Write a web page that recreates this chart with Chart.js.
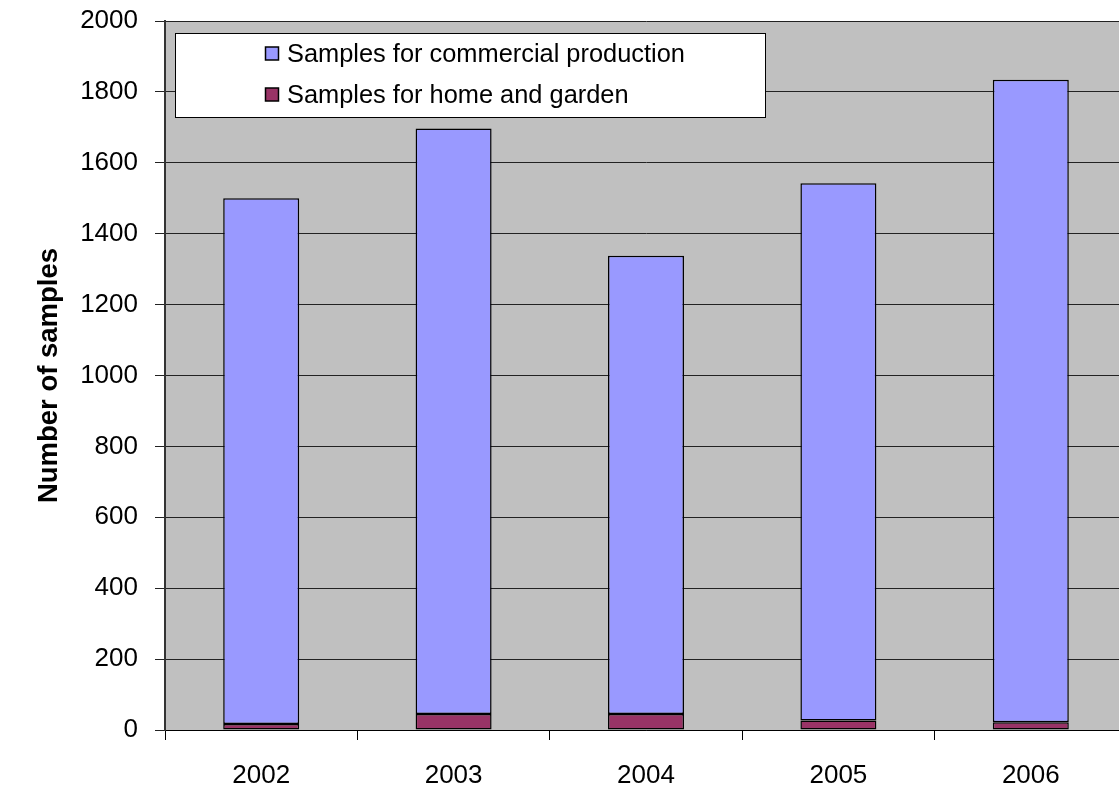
<!DOCTYPE html>
<html>
<head>
<meta charset="utf-8">
<script src="https://cdn.jsdelivr.net/npm/chart.js@4/dist/chart.umd.min.js"></script>
<style>
  html, body { margin: 0; padding: 0; background: #ffffff; overflow: hidden; }
  #wrap { position: relative; width: 1130px; height: 790px; }
</style>
</head>
<body>
<div id="wrap"><canvas id="chart"></canvas></div>
<script>
// Years on the category axis
const years = ['2002', '2003', '2004', '2005', '2006'];
// Samples taken for commercial production, per year
const commercialSamples = [1483, 1652, 1293, 1515, 1812];
// Samples taken for home and garden, per year
const homeGardenSamples = [17, 45, 45, 27, 22];
// Series names shown in the legend
const commercialLabel = 'Samples for commercial production';
const homeGardenLabel = 'Samples for home and garden';
// Y-axis range and step
const yMin = 0, yMax = 2000, yStep = 200;

const FONT = '"Liberation Sans", Arial, sans-serif';
const COMMERCIAL_COLOR = '#9999FF';
const HOME_COLOR = '#993366';

// Draws the plot background and a boxed legend inside the plot area
const plotDecor = {
  id: 'plotDecor',
  beforeDraw(chart) {
    const { ctx, chartArea: a } = chart;
    ctx.save();
    ctx.fillStyle = '#C0C0C0';
    ctx.fillRect(a.left, a.top, a.right - a.left, a.bottom - a.top);
    ctx.restore();
  },
  afterDatasetsDraw(chart) {
    const { ctx } = chart;
    const box = { x: 175.5, y: 33.5, w: 590, h: 84 };
    ctx.save();
    ctx.fillStyle = '#ffffff';
    ctx.fillRect(box.x, box.y, box.w, box.h);
    ctx.strokeStyle = '#000000';
    ctx.lineWidth = 1;
    ctx.strokeRect(box.x, box.y, box.w, box.h);
    ctx.font = '25.4px ' + FONT;
    ctx.textBaseline = 'middle';
    ctx.textAlign = 'left';
    // legend lists the top segment first
    const items = [
      { label: commercialLabel, color: COMMERCIAL_COLOR, cy: 54 },
      { label: homeGardenLabel, color: HOME_COLOR, cy: 95 }
    ];
    items.forEach(it => {
      ctx.fillStyle = it.color;
      ctx.fillRect(265.5, it.cy - 7, 13, 13);
      ctx.strokeStyle = '#000000';
      ctx.lineWidth = 1.5;
      ctx.strokeRect(265.5, it.cy - 7, 13, 13);
      ctx.fillStyle = '#000000';
      ctx.fillText(it.label, 287, it.cy + 1);
    });
    ctx.restore();
  }
};

new Chart(document.getElementById('chart'), {
  type: 'bar',
  data: {
    labels: years,
    datasets: [
      {
        label: homeGardenLabel,
        data: homeGardenSamples,
        backgroundColor: HOME_COLOR,
        borderColor: '#000000',
        borderWidth: 1.5,
        borderSkipped: false
      },
      {
        label: commercialLabel,
        data: commercialSamples,
        backgroundColor: COMMERCIAL_COLOR,
        borderColor: '#000000',
        borderWidth: 1.5,
        borderSkipped: false
      }
    ]
  },
  options: {
    responsive: true,
    maintainAspectRatio: false,
    animation: false,
    layout: { padding: { left: 0, top: 21, right: 3, bottom: 0 } },
    datasets: {
      bar: { categoryPercentage: 1.0, barPercentage: 0.395 }
    },
    plugins: {
      legend: { display: false },
      tooltip: { enabled: false }
    },
    scales: {
      x: {
        stacked: true,
        offset: true,
        grid: {
          offset: true,
          drawOnChartArea: false,
          drawTicks: true,
          tickLength: 10,
          color: '#000000'
        },
        border: { display: true, color: '#000000', width: 1 },
        ticks: {
          color: '#000000',
          font: { family: FONT, size: 26 },
          padding: 20,
          maxRotation: 0
        },
        afterFit(scale) {
          scale.height = 60;
          scale.paddingLeft = 0;
          scale.paddingRight = 0;
        }
      },
      y: {
        stacked: true,
        min: yMin,
        max: yMax,
        grid: {
          color: '#222222',
          lineWidth: 1,
          drawTicks: true,
          tickLength: 10
        },
        border: { display: true, color: '#333333', width: 2 },
        ticks: {
          stepSize: yStep,
          color: '#000000',
          font: { family: FONT, size: 26 },
          padding: 17,
          callback: (v) => String(v)
        },
        title: {
          display: true,
          text: 'Number of samples',
          color: '#000000',
          font: { family: FONT, size: 27.5, weight: 'bold' },
          padding: { top: 33, bottom: 0 }
        },
        afterFit(scale) {
          scale.width = 165;
          scale.paddingTop = 0;
          scale.paddingBottom = 0;
        }
      }
    }
  },
  plugins: [plotDecor]
});
</script>
</body>
</html>
